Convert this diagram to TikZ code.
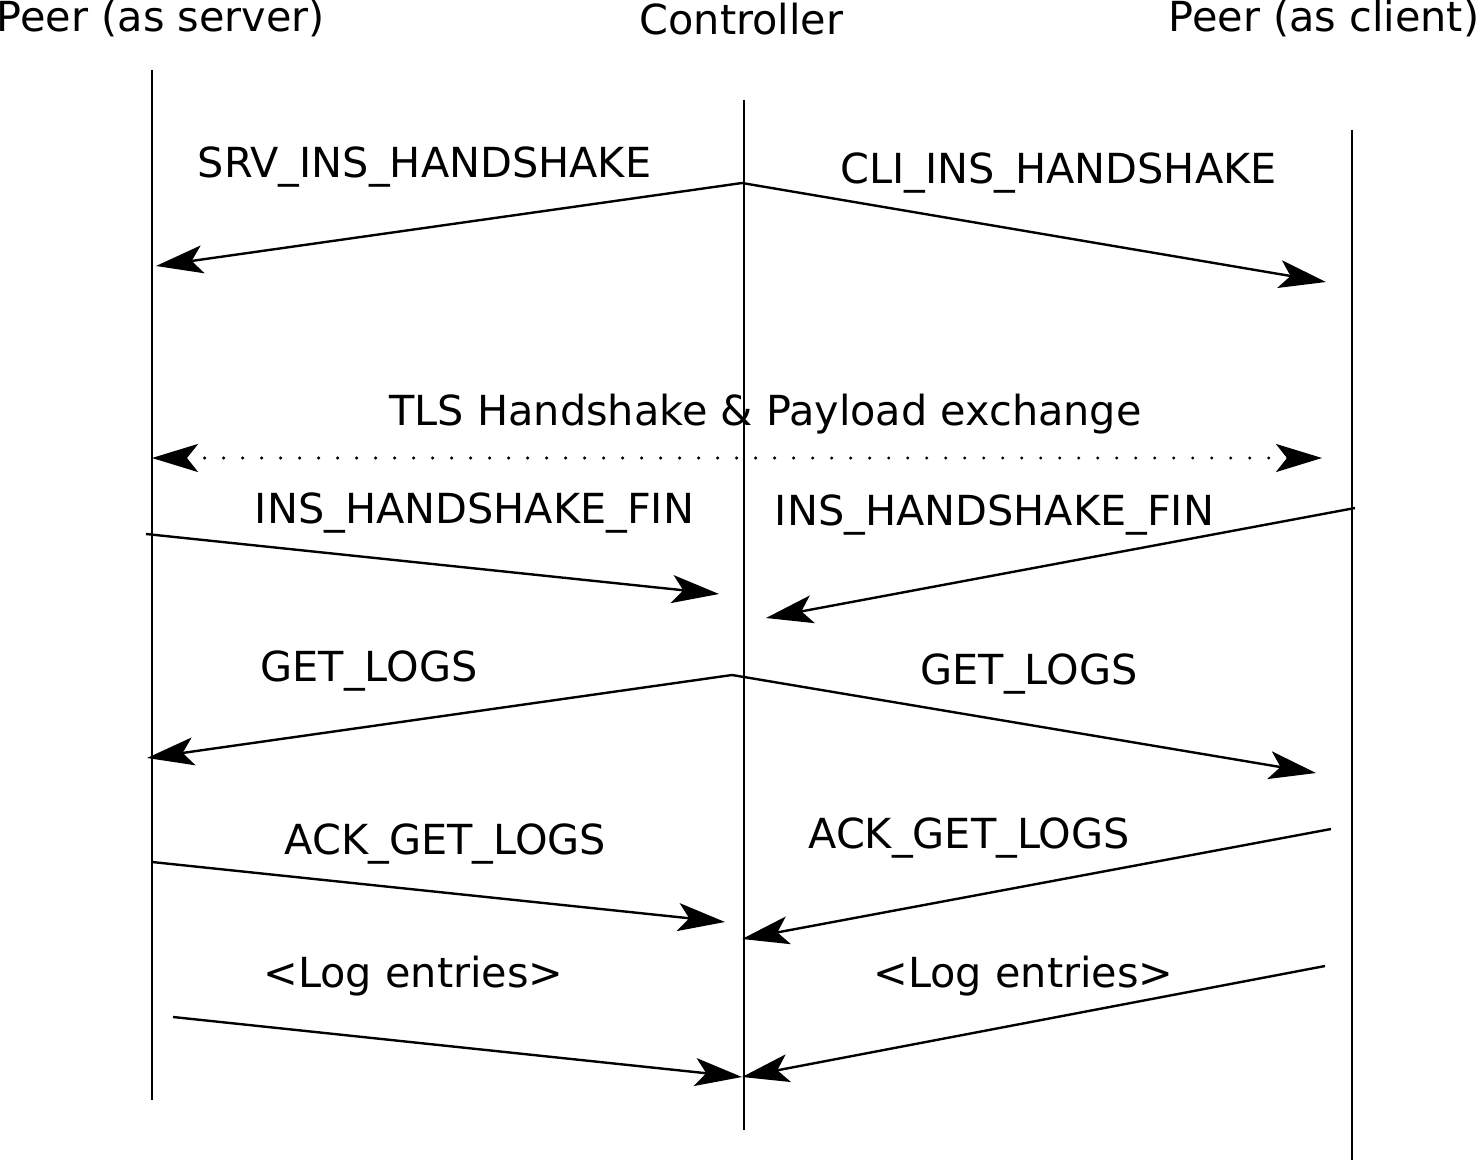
\documentclass[tikz,border=0pt]{standalone}
\usepackage{fontspec}
\setmainfont{DejaVu Sans}
\usetikzlibrary{arrows.meta}
\begin{document}
\begin{tikzpicture}[x=0.5pt,y=-0.5pt,
  lifeline/.style={line width=0.55pt},
  msg/.style={line width=1.2pt,-{Stealth[length=23.5pt,width=14pt,inset=5.5pt]}},
  lbl/.style={anchor=base,inner sep=0pt,font=\fontsize{20.7}{24}\selectfont}]
\useasboundingbox (0,0) rectangle (1477,1160);
% actors
\node[lbl] (srv) at (161,32) {Peer (as server)};
\node[lbl] (ctl) at (741.5,35) {Controller};
\node[lbl] (cli) at (1324,32) {Peer (as client)};
% lifelines
\coordinate (srvtop) at (152,70);
\coordinate (srvbot) at (152,1100);
\coordinate (ctltop) at (744,100);
\coordinate (ctlbot) at (744,1130);
\coordinate (clitop) at (1352,130);
\coordinate (clibot) at (1352,1160);
\draw[lifeline] (srvtop) -- (srvbot);
\draw[lifeline] (ctltop) -- (ctlbot);
\draw[lifeline] (clitop) -- (clibot);
% handshake start
\coordinate (hs) at (742,183);
\coordinate (hssrv) at (156,266);
\coordinate (hscli) at (1326,282);
\draw[msg] (hs) -- (hssrv);
\draw[msg] (hs) -- (hscli);
\node[lbl] (srvhs) at (424.5,178) {SRV\_INS\_HANDSHAKE};
\node[lbl] (clihs) at (1058.5,184) {CLI\_INS\_HANDSHAKE};
% tls exchange
\coordinate (tlsl) at (152,458);
\coordinate (tlsr) at (1322,458);
\draw[line width=1.7pt,line cap=round,dash pattern=on 0pt off 9.5pt,
  {Stealth[length=23pt,width=14pt,inset=5.5pt]}-{Stealth[length=23pt,width=14pt,inset=5.5pt]}]
  (tlsl) -- (tlsr);
\node[lbl] (tls) at (765.5,425) {TLS Handshake \& Payload exchange};
% handshake fin
\coordinate (finsrv) at (146,534);
\coordinate (finctl1) at (719,594);
\coordinate (fincli) at (1355,508);
\coordinate (finctl2) at (766,618);
\draw[msg] (finsrv) -- (finctl1);
\draw[msg] (fincli) -- (finctl2);
\node[lbl] (fin1) at (474.5,523) {INS\_HANDSHAKE\_FIN};
\node[lbl] (fin2) at (994.5,525) {INS\_HANDSHAKE\_FIN};
% get logs
\coordinate (gl) at (732,675);
\coordinate (glsrv) at (147,758);
\coordinate (glcli) at (1316,773);
\draw[msg] (gl) -- (glsrv);
\draw[msg] (gl) -- (glcli);
\node[lbl] (gl1) at (369,681) {GET\_LOGS};
\node[lbl] (gl2) at (1029,684) {GET\_LOGS};
% ack
\coordinate (acksrv) at (152,862);
\coordinate (ackctl1) at (725,922);
\coordinate (ackcli) at (1331,829);
\coordinate (ackctl2) at (742,939);
\draw[msg] (acksrv) -- (ackctl1);
\draw[msg] (ackcli) -- (ackctl2);
\node[lbl] (ack1) at (445.5,854) {ACK\_GET\_LOGS};
\node[lbl] (ack2) at (969,848) {ACK\_GET\_LOGS};
% log entries
\coordinate (logsrv) at (173,1017);
\coordinate (logcli) at (1325,966);
\coordinate (logctl) at (742,1077);
\draw[msg] (logsrv) -- (logctl);
\draw[msg] (logcli) -- (logctl);
\node[lbl] (log1) at (413.5,987) {<Log entries>};
\node[lbl] (log2) at (1023.5,987) {<Log entries>};
\end{tikzpicture}
\end{document}
